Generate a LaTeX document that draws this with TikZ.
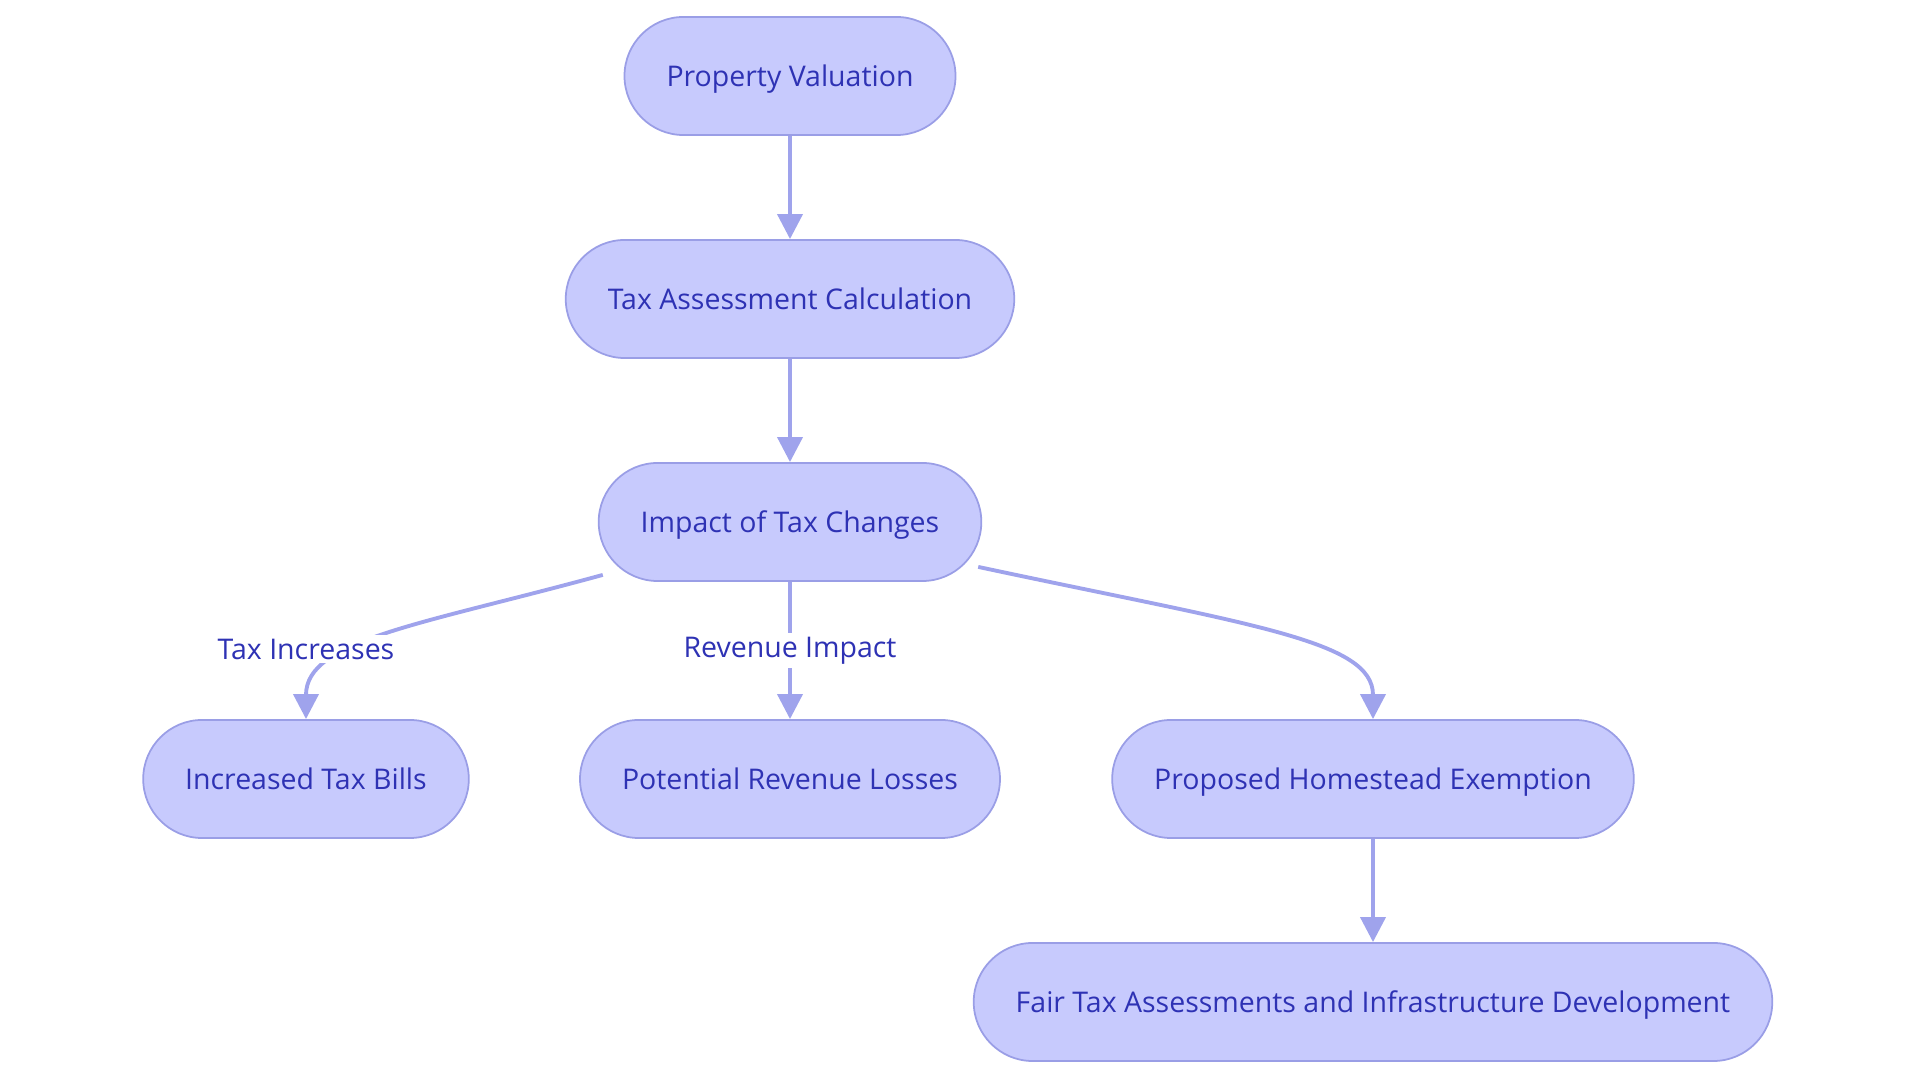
\documentclass[tikz,border=0pt]{standalone}
\usepackage{fontspec}
\setmainfont{Open Sans}
\usetikzlibrary{arrows.meta,calc}
\definecolor{boxfill}{HTML}{C7CAFD}
\definecolor{boxline}{HTML}{9A9EE6}
\definecolor{edgecol}{HTML}{9FA3EC}
\definecolor{txtcol}{HTML}{2E32B4}
\begin{document}
\begin{tikzpicture}[x=0.01cm,y=-0.01cm,
  font=\fontsize{8.1}{10}\selectfont,
  box/.style={draw=boxline,line width=0.5pt,fill=boxfill,text=txtcol,
    rounded corners=0.59cm,minimum height=1.18cm,inner xsep=0.42cm,
    text height=1.6ex,text depth=0.45ex},
  edge/.style={draw=edgecol,line width=1.1pt,
    -{Triangle[width=0.25cm,length=0.25cm]}},
  lbl/.style={fill=white,text=txtcol,inner sep=1pt}]
\useasboundingbox (0,0) rectangle (1920,1083);
% nodes
\node[box] (pv)  at (790,76)   {Property Valuation};
\node[box] (tac) at (790,299)  {Tax Assessment Calculation};
\node[box] (itc) at (790,522)  {Impact of Tax Changes};
\node[box] (itb) at (306,779)  {Increased Tax Bills};
\node[box] (prl) at (790,779)  {Potential Revenue Losses};
\node[box] (phe) at (1373,779) {Proposed Homestead Exemption};
\node[box] (fta) at (1373,1002){Fair Tax Assessments and Infrastructure Development};
% straight edges
\foreach \a/\b in {pv/tac,tac/itc,phe/fta}
  \draw[edge] (\a) -- (\b);
\draw[edge] (itc) -- node[lbl]{Revenue Impact} (prl);
% curved edges
\coordinate (ls) at ($(itc.south west)+(5,-7)$);
\coordinate (rs) at ($(itc.south east)+(-4,-15)$);
\draw[edge] (ls) .. controls (420,625) and (306,640) .. (itb.north);
\node[lbl] at (306,649) {Tax Increases};
\draw[edge] (rs) .. controls (1250,625) and (1373,640) .. (phe.north);
\end{tikzpicture}
\end{document}
